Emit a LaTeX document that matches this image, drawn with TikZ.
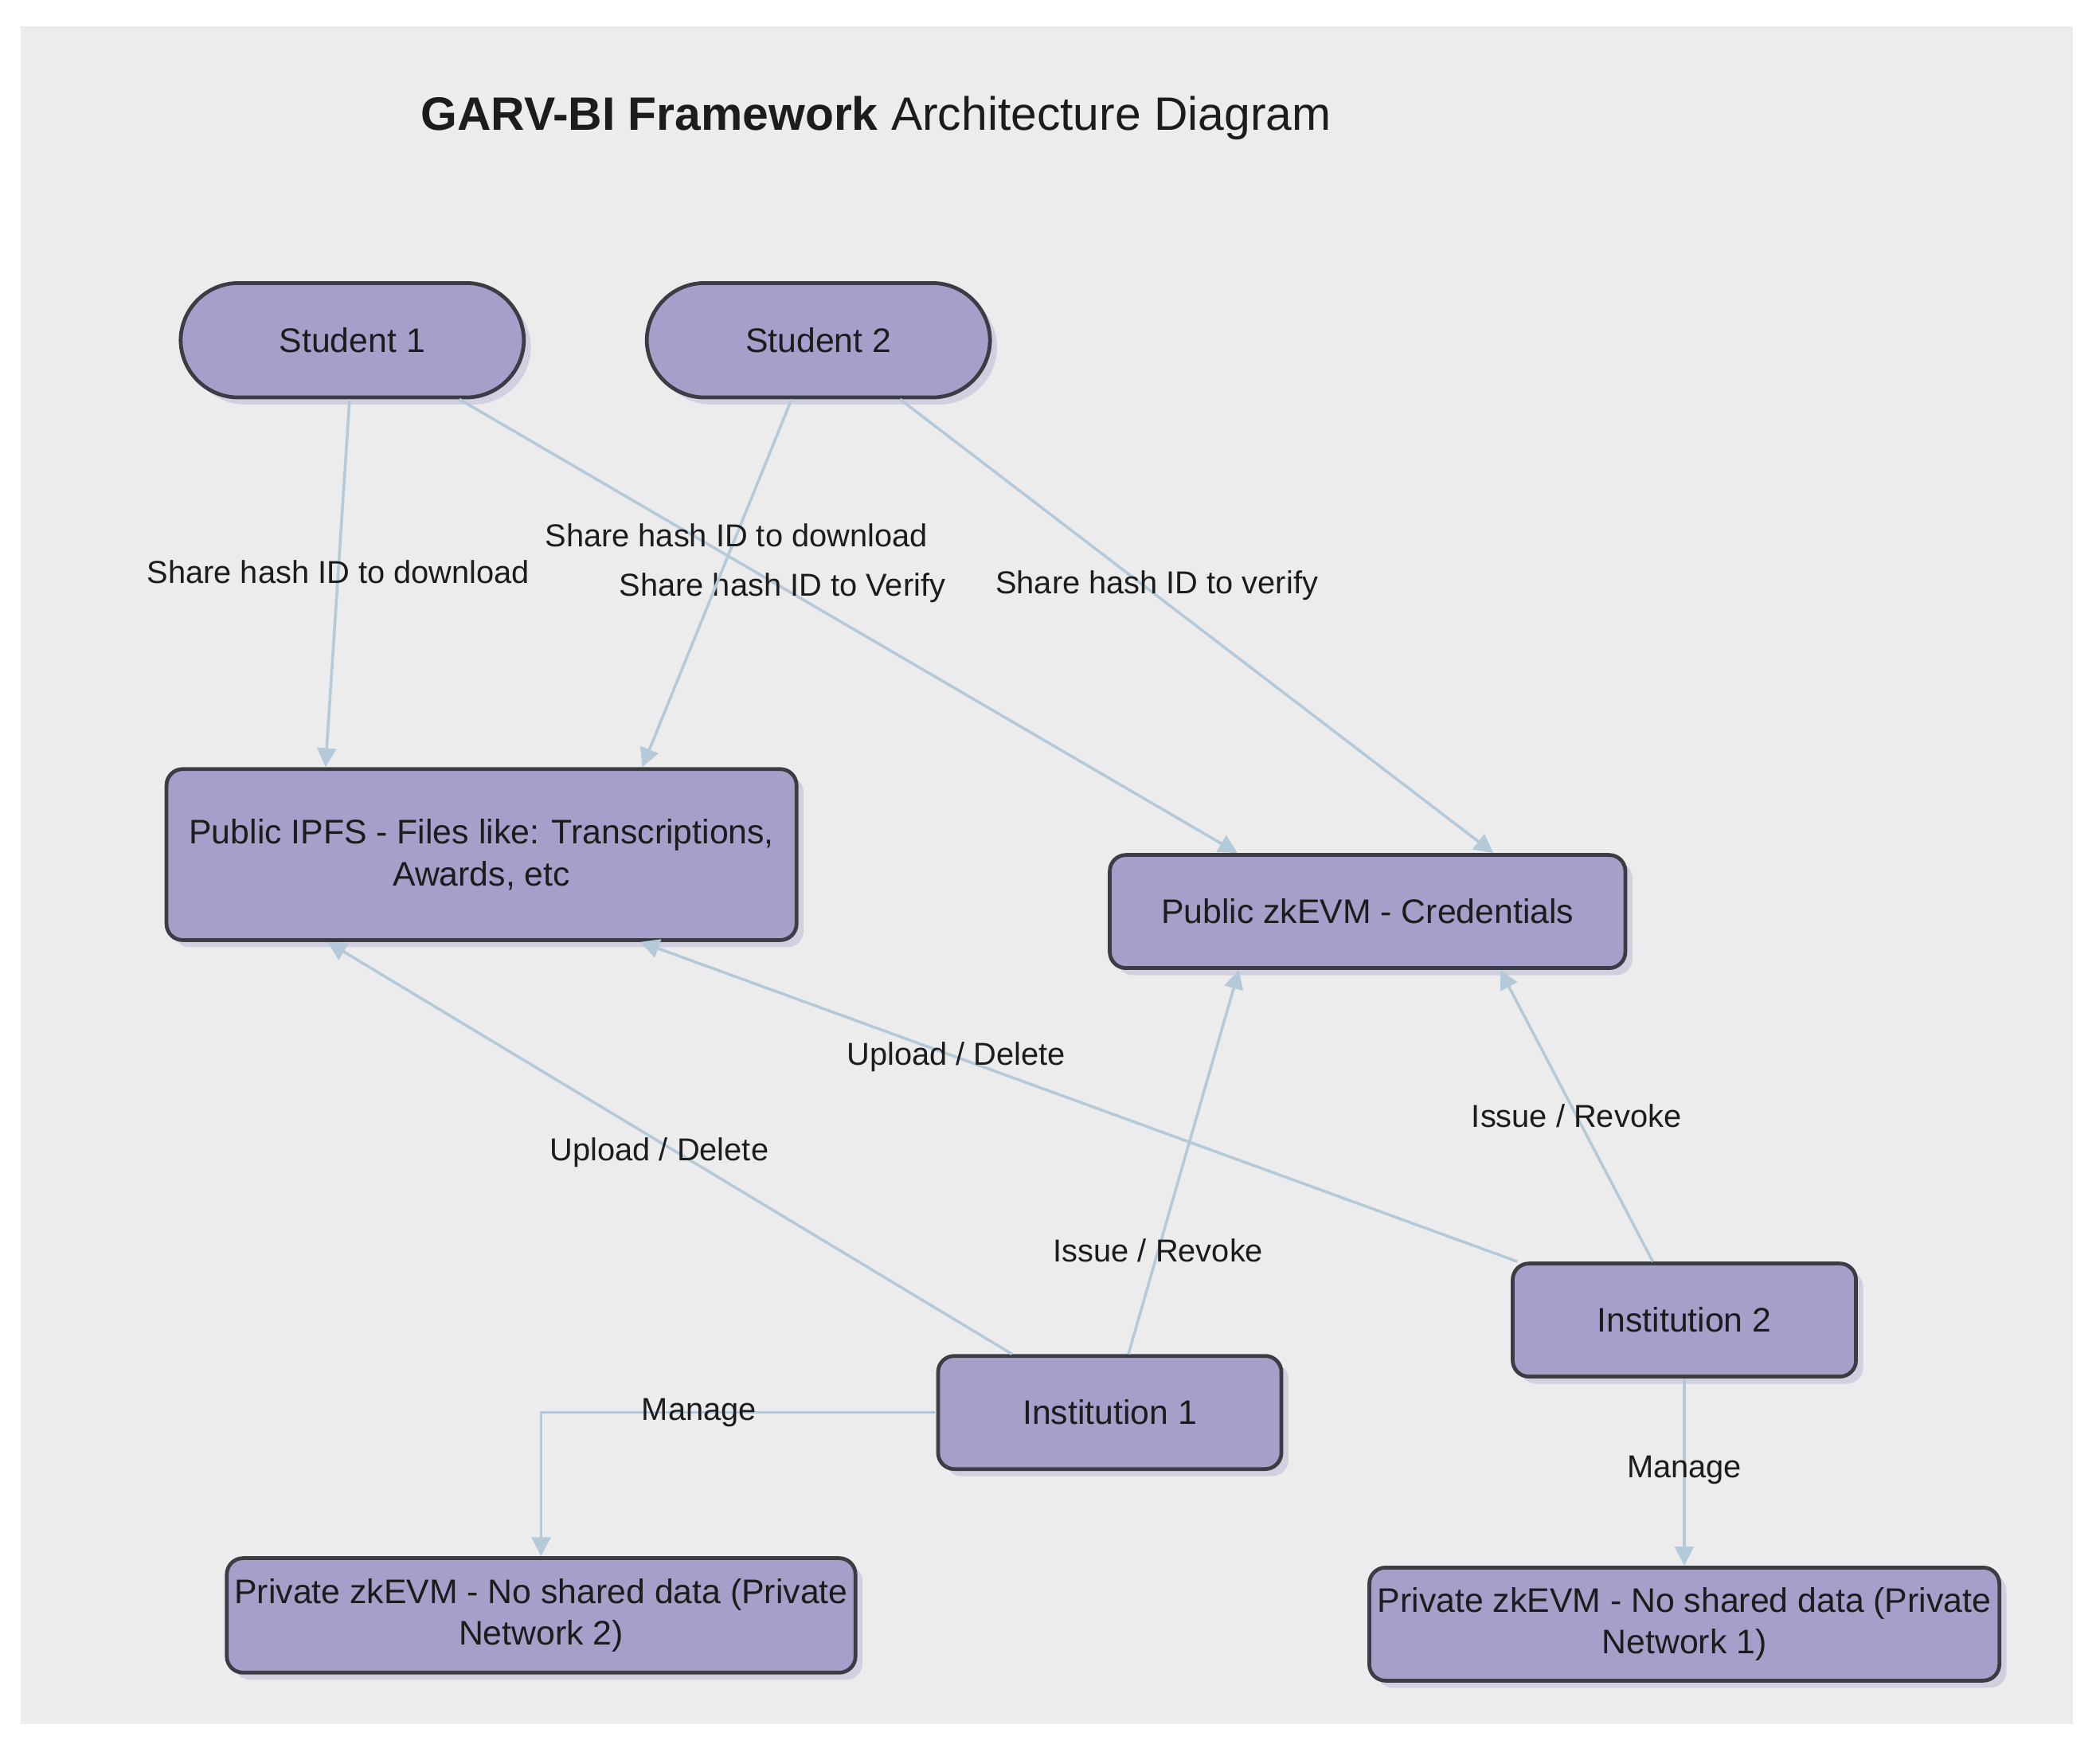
\documentclass[tikz,border=0pt]{standalone}
\usepackage{fontspec}
\setmainfont{Liberation Sans}
\usetikzlibrary{arrows.meta, shadows}

\definecolor{boxfill}{HTML}{A59FCA}
\definecolor{boxline}{HTML}{3C3C44}
\definecolor{linkc}{HTML}{B5CAD8}
\definecolor{pagebg}{HTML}{ECECEC}
\definecolor{txt}{HTML}{1C1C1C}
\definecolor{shade}{HTML}{CACADD}

\tikzset{
  block/.style = {draw = boxline, line width = 0.8pt, fill = boxfill, rounded corners = 0.12cm,
    minimum width = 2.55cm, minimum height = 0.84cm, align = center, text = txt,
    font = \fontsize{7.2}{8.9}\selectfont, inner sep = 1pt,
    drop shadow = {shadow xshift = 1.5pt, shadow yshift = -1.5pt, fill = shade, opacity = 0.8}},
  pill/.style = {block, rounded corners = 0.43cm, minimum height = 0.85cm},
  link/.style = {draw = linkc, line width = 0.6pt, -{Triangle[length = 4pt, width = 4pt]}},
  lbl/.style = {font = \fontsize{6.7}{8}\selectfont, text = txt, inner sep = 0pt}
}

\begin{document}
\begin{tikzpicture}
\useasboundingbox (0,0) rectangle (15.6,-13.04);
\fill [pagebg] (0.154,-0.195) rectangle (15.396,-12.81);

\begin{scope}[scale = 0.995]
\node [text = txt, font = \fontsize{9.9}{12}\selectfont] (title) at (6.54,-0.88)
  {\textbf{GARV-BI Framework} Architecture Diagram};

% students
\node [pill] (s1) at (2.63,-2.54) {Student 1};
\node [pill] (s2) at (6.11,-2.54) {Student 2};

% public storage
\node [block, minimum width = 4.68cm, minimum height = 1.27cm] (ipfs) at (3.595,-6.38)
  {Public IPFS - Files like: Transcriptions,\\ Awards, etc};
\node [block, minimum width = 3.83cm] (zk) at (10.21,-6.805) {Public zkEVM - Credentials};

% institutions
\node [block] (i1) at (8.285,-10.545) {Institution 1};
\node [block] (i2) at (12.575,-9.855) {Institution 2};

% private networks
\node [block, minimum width = 4.67cm, minimum height = 0.85cm] (p2) at (4.04,-12.06)
  {Private zkEVM - No shared data (Private\\ Network 2)};
\node [block, minimum width = 4.68cm] (p1) at (12.575,-12.125)
  {Private zkEVM - No shared data (Private\\ Network 1)};

\draw [link] ([xshift = -0.02cm]s1.south) -- node [lbl, pos = 0.47] {Share hash ID to download} ([xshift = -1.165cm]ipfs.north);
\draw [link] ([xshift = 0.8cm]s1.south) -- node [lbl, pos = 0.415] {Share hash ID to Verify} ([xshift = -0.97cm]zk.north);
\draw [link] ([xshift = -0.2cm]s2.south) -- node [lbl, pos = 0.37] {Share hash ID to download} ([xshift = 1.2cm]ipfs.north);
\draw [link] ([xshift = 0.61cm]s2.south) -- node [lbl, pos = 0.41, xshift = 0.1cm] {Share hash ID to verify} ([xshift = 0.94cm]zk.north);

\draw [link] ([xshift = -0.73cm]i1.north) -- node [lbl, pos = 0.515, yshift = -0.08cm] {Upload / Delete} ([xshift = -1.15cm]ipfs.south);
\draw [link] ([xshift = 0.14cm]i1.north) -- node [lbl, pos = 0.27] {Issue / Revoke} ([xshift = -0.96cm]zk.south);
\draw [link] ([xshift = 0.05cm]i2.north west) -- node [lbl, pos = 0.64] {Upload / Delete} ([xshift = 1.185cm]ipfs.south);
\draw [link] ([xshift = -0.235cm]i2.north) -- node [lbl, pos = 0.5] {Issue / Revoke} ([xshift = 0.99cm]zk.south);

\draw [link] (i1.west) -| node [lbl, pos = 0.3] {Manage} (p2.north);
\draw [link] (i2.south) -- node [lbl, pos = 0.49] {Manage} (p1.north);
\end{scope}
\end{tikzpicture}
\end{document}
